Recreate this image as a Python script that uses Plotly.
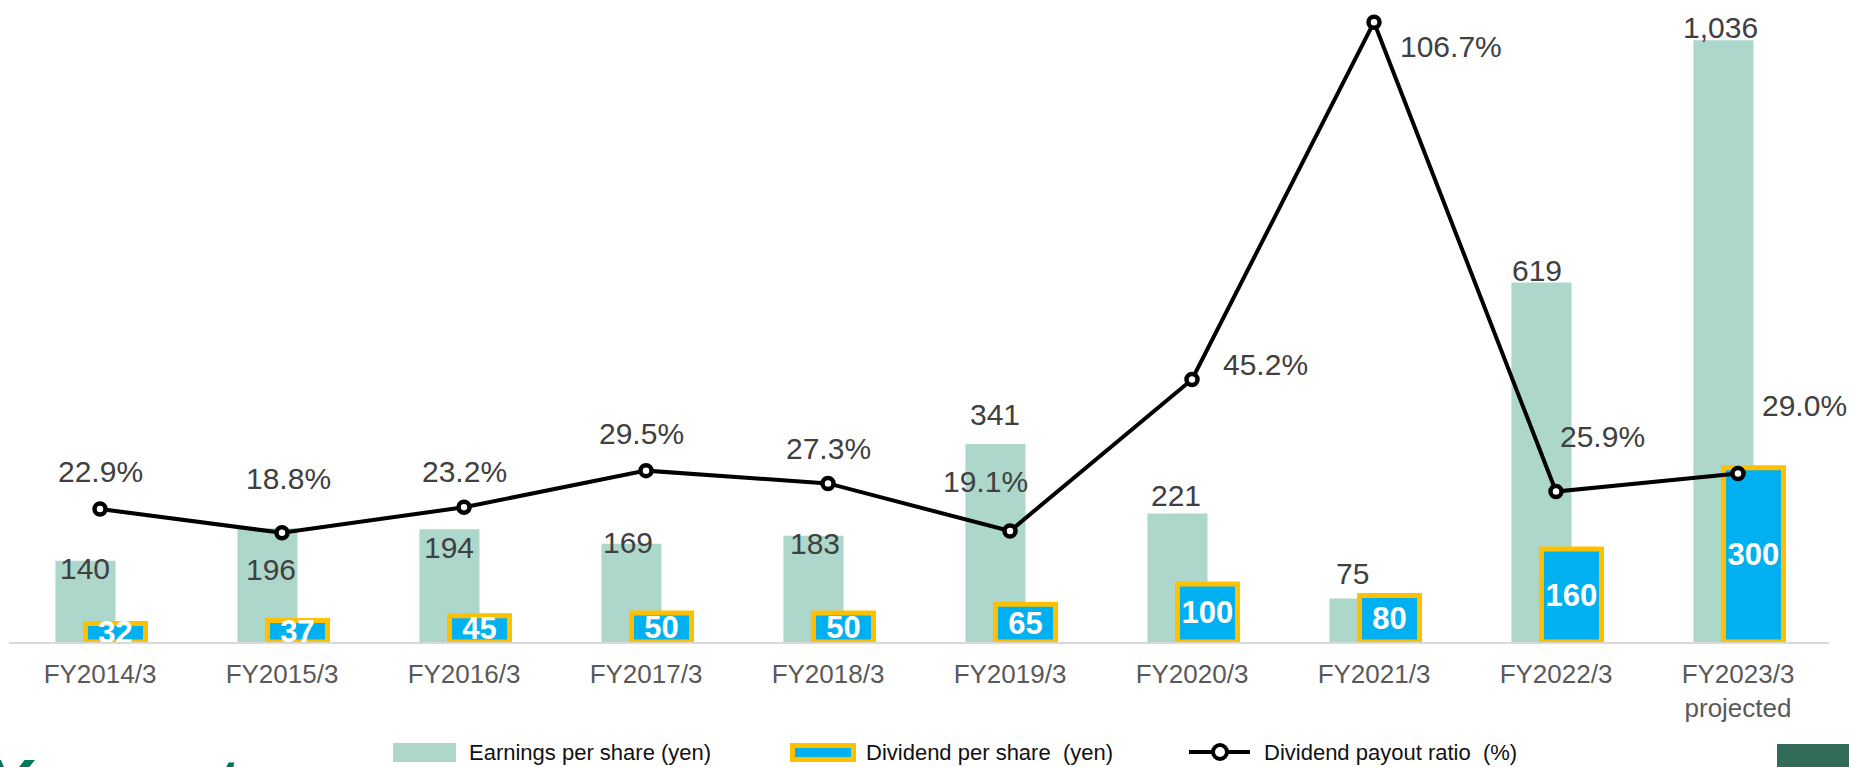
import plotly.graph_objects as go

# ---- data ----
categories = ["FY2014/3", "FY2015/3", "FY2016/3", "FY2017/3", "FY2018/3",
              "FY2019/3", "FY2020/3", "FY2021/3", "FY2022/3", "FY2023/3<br>projected"]
eps = [140, 196, 194, 169, 183, 341, 221, 75, 619, 1036]
dividend = [32, 37, 45, 50, 50, 65, 100, 80, 160, 300]
payout = [22.9, 18.8, 23.2, 29.5, 27.3, 19.1, 45.2, 106.7, 25.9, 29.0]

legend_labels = ["Earnings per share (yen)", "Dividend per share  (yen)", "Dividend payout ratio  (%)"]

# label nudges in px (style only)
eps_label_dx = [-15, -11, -15, -18, -13, -15, -16, -22, -19, -18]
eps_label_dy = [-8, -41, -18, 1, -8, 29, 18, 25, 12, 13]
pct_label_dx = [0, 6, 0, -5, 0, -25, 73, 77, 46, 66]
pct_label_dy = [37, 54, 36, 37, 35, 50, 15, -24, 55, 68]

EPS_COLOR = "#add7ca"
DIV_COLOR = "#00b0f0"
DIV_BORDER = "#ffc000"
TEXT_GRAY = "#404040"
FONT = "Liberation Sans, Arial, sans-serif"

# plot area geometry (px) used for paper-coordinate legend items
W, H = 1849, 767
ML, MR, MT, MB = 9, 20, 3, 125
PW, PH = W - ML - MR, H - MT - MB


def px_x(px):
    return (px - ML) / PW


def px_y(py):
    return (H - MB - py) / PH


fig = go.Figure()

fig.add_trace(go.Bar(
    x=categories, y=eps,
    marker=dict(color=EPS_COLOR, line=dict(width=0)),
    offset=-0.245, width=0.33,
    name=legend_labels[0],
    hoverinfo="skip",
))

fig.add_trace(go.Bar(
    x=categories, y=dividend,
    marker=dict(color=DIV_COLOR, line=dict(color=DIV_BORDER, width=5)),
    offset=-0.08, width=0.33,
    text=[str(v) for v in dividend],
    textposition="inside",
    insidetextanchor="middle",
    textangle=0,
    constraintext="none",
    cliponaxis=True,
    textfont=dict(family=FONT, size=31, color="white", weight="bold"),
    name=legend_labels[1],
    hoverinfo="skip",
))

fig.add_trace(go.Scatter(
    x=categories, y=payout,
    yaxis="y2",
    mode="lines+markers",
    line=dict(color="black", width=4),
    marker=dict(size=11, color="white", line=dict(color="black", width=4.5)),
    name=legend_labels[2],
    cliponaxis=False,
    hoverinfo="skip",
))

annotations = []
for i, cat in enumerate(categories):
    annotations.append(dict(
        x=cat, y=eps[i], xref="x", yref="y",
        text=f"{eps[i]:,}", showarrow=False,
        xshift=eps_label_dx[i], yshift=eps_label_dy[i],
        font=dict(family=FONT, size=30, color=TEXT_GRAY),
    ))
    annotations.append(dict(
        x=cat, y=payout[i], xref="x", yref="y2",
        text=f"{payout[i]:.1f}%", showarrow=False,
        xshift=pct_label_dx[i], yshift=pct_label_dy[i],
        font=dict(family=FONT, size=30, color=TEXT_GRAY),
    ))

# custom legend (large swatches like the original)
legend_text_x = [467, 864, 1262]
for lbl, lx in zip(legend_labels, legend_text_x):
    annotations.append(dict(
        x=px_x(lx), y=px_y(752), xref="paper", yref="paper",
        xanchor="left", yanchor="middle", text=lbl, showarrow=False,
        font=dict(family=FONT, size=22, color="#111111"),
    ))

# partially visible logo at bottom-left
annotations.append(dict(
    x=px_x(-16), y=px_y(783), xref="paper", yref="paper",
    xanchor="left", yanchor="middle",
    text="<b><i>Y\u2009a\u2009m\u2009a\u2009t\u2009o</i></b>", showarrow=False,
    font=dict(family=FONT, size=66, color="#00785a"),
))

shapes = [
    dict(type="rect", xref="paper", yref="paper",
         x0=px_x(393), x1=px_x(456), y0=px_y(762), y1=px_y(743),
         fillcolor=EPS_COLOR, line=dict(width=0)),
    dict(type="rect", xref="paper", yref="paper",
         x0=px_x(792.5), x1=px_x(853.5), y0=px_y(759.5), y1=px_y(745.5),
         fillcolor=DIV_COLOR, line=dict(color=DIV_BORDER, width=5)),
    dict(type="line", xref="paper", yref="paper",
         x0=px_x(1189), x1=px_x(1250), y0=px_y(752), y1=px_y(752),
         line=dict(color="black", width=4)),
    dict(type="circle", xref="paper", yref="paper",
         x0=px_x(1213), x1=px_x(1227), y0=px_y(759), y1=px_y(745),
         fillcolor="white", line=dict(color="black", width=4)),
    # dark green block at bottom-right
    dict(type="rect", xref="paper", yref="paper",
         x0=px_x(1777), x1=px_x(1855), y0=px_y(770), y1=px_y(744),
         fillcolor="#336b5a", line=dict(width=0)),
]

fig.update_layout(
    width=W, height=H,
    autosize=False,
    margin=dict(l=ML, r=MR, t=MT, b=MB, pad=0, autoexpand=False),
    barmode="overlay",
    showlegend=False,
    plot_bgcolor="white",
    paper_bgcolor="white",
    font=dict(family=FONT),
    xaxis=dict(
        type="category", automargin=False,
        range=[-0.5, len(categories) - 0.5],
        showline=True, linecolor="#d9d9d9", linewidth=2,
        showgrid=False, zeroline=False,
        ticks="outside", ticklen=8, tickcolor="rgba(0,0,0,0)",
        tickfont=dict(family=FONT, size=26, color="#595959"),
    ),
    yaxis=dict(range=[0, 1100], visible=False, showgrid=False, zeroline=False,
               automargin=False),
    yaxis2=dict(range=[0, 110], overlaying="y", side="right", visible=False,
                showgrid=False, zeroline=False, automargin=False),
    annotations=annotations,
    shapes=shapes,
)

fig.write_html(
    "out.html",
    config={"displayModeBar": False, "responsive": False},
    post_script="document.body.style.margin='0';",
)
